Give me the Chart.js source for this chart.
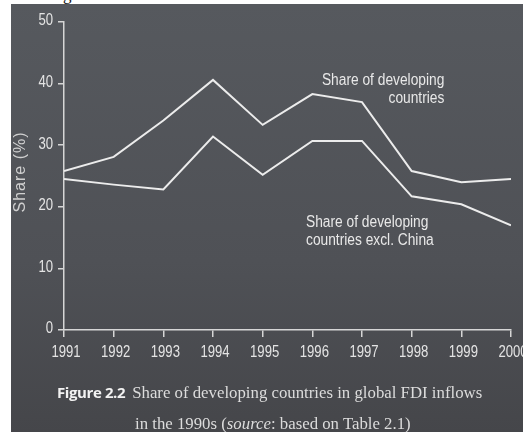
<!DOCTYPE html>
<html>
<head>
<meta charset="utf-8">
<script src="https://cdn.jsdelivr.net/npm/chart.js@4"></script>
<style>
  html, body { margin: 0; padding: 0; background: #ffffff; }
  #page { position: relative; width: 523px; height: 432px; overflow: hidden; background: #ffffff; }
  #panel {
    position: absolute; left: 11px; top: 4px; width: 512px; height: 428px;
    background: linear-gradient(to bottom, #56595e 0%, #4f5156 60%, #45464a 100%);
  }
  #topg { position: absolute; left: 63px; top: -15px; font: 17px "Liberation Serif", serif; color: #111; }
  canvas { position: absolute; left: 0; top: 0; }
  .lbl { position: absolute; font: 16px "Liberation Sans", sans-serif; color: #e8e8e8; line-height: 18px; white-space: nowrap; transform: scaleX(0.86); }
  .cap { position: absolute; color: #dcdcdc; white-space: nowrap; font: 16.8px "Liberation Serif", serif; }
  .cap b { font: bold 15px "Open Sans", "DejaVu Sans", sans-serif; color: #f2f2f2; margin-right: 7px; letter-spacing: -0.4px; }
</style>
</head>
<body>
<div id="page">
  <div id="topg">g</div>
  <div id="panel"></div>
  <canvas id="myChart" width="523" height="432"></canvas>
  <div class="lbl" style="right:79px; top:71px; text-align:right; transform-origin: right top;">Share of developing<br>countries</div>
  <div class="lbl" style="left:306px; top:213px; transform-origin: left top;">Share of developing<br>countries excl. China</div>
  <div class="cap" style="left:57px; top:382px;"><b>Figure 2.2</b>Share of developing countries in global FDI inflows</div>
  <div class="cap" style="left:135px; top:414px;">in the 1990s (<i>source</i>: based on Table 2.1)</div>
</div>
<script>
// Données du graphique
const annees = [1991, 1992, 1993, 1994, 1995, 1996, 1997, 1998, 1999, 2000];
const partPaysEnDev = [25.8, 28.1, 34.0, 40.6, 33.3, 38.3, 37.0, 25.8, 24.0, 24.5];
const partHorsChine = [24.5, 23.6, 22.8, 31.4, 25.2, 30.7, 30.7, 21.7, 20.4, 17.0];
const graduationsY = [0, 10, 20, 30, 40, 50];

const couleurAxe = '#d6d6d6';
const policeEtroite = '16px "Liberation Sans", sans-serif';

// Libellés des graduations, écrits en police resserrée (pas de police condensée installée)
function texteEtroit(c, txt, x, y, align) {
  c.save();
  c.translate(x, y);
  c.scale(0.82, 1);
  c.textAlign = align;
  c.fillText(txt, 0, 0);
  c.restore();
}

const libellesAxes = {
  id: 'libellesAxes',
  afterDraw(chart) {
    const c = chart.ctx;
    const sx = chart.scales.x, sy = chart.scales.y;
    c.save();
    c.fillStyle = '#e4e4e4';
    c.font = policeEtroite;
    c.textBaseline = 'alphabetic';
    annees.forEach(a => texteEtroit(c, String(a), sx.getPixelForValue(a) + 2, sx.top + 27, 'center'));
    c.textBaseline = 'middle';
    graduationsY.forEach(v => texteEtroit(c, String(v), sy.right - 11, sy.getPixelForValue(v) - 1, 'right'));
    // Titre de l'axe Y, tourné
    c.translate(21, 172);
    c.rotate(-Math.PI / 2);
    c.fillStyle = '#d0d0d0';
    c.font = '16px "Liberation Sans", sans-serif';
    c.letterSpacing = '1px';
    c.textAlign = 'center';
    c.fillText('Share (%)', 0, 0);
    c.restore();
  }
};

const ctx = document.getElementById('myChart').getContext('2d');
const myChart = new Chart(ctx, {
  type: 'line',
  data: {
    datasets: [
      {
        label: 'Share of developing countries',
        data: annees.map((a, i) => ({ x: a, y: partPaysEnDev[i] })),
        borderColor: '#ececec',
        borderWidth: 2,
        pointRadius: 0,
        tension: 0,
        fill: false
      },
      {
        label: 'Share of developing countries excl. China',
        data: annees.map((a, i) => ({ x: a, y: partHorsChine[i] })),
        borderColor: '#ececec',
        borderWidth: 2,
        pointRadius: 0,
        tension: 0,
        fill: false
      }
    ]
  },
  options: {
    responsive: false,
    animation: false,
    layout: { padding: { top: 22, right: 12, left: 0, bottom: 0 } },
    plugins: { legend: { display: false }, tooltip: { enabled: false } },
    scales: {
      x: {
        type: 'linear',
        min: 1991,
        max: 2000,
        afterFit: s => { s.height = 102; },
        afterBuildTicks: s => { s.ticks = annees.map(a => ({ value: a })); },
        ticks: { display: false },
        grid: { drawOnChartArea: false, color: couleurAxe, tickLength: 7, lineWidth: 1.5 },
        border: { color: couleurAxe, width: 1.5 }
      },
      y: {
        min: 0,
        max: 50,
        afterFit: s => { s.width = 64; },
        afterBuildTicks: s => { s.ticks = graduationsY.map(v => ({ value: v })); },
        ticks: { display: false },
        grid: { drawOnChartArea: false, color: couleurAxe, tickLength: 6, lineWidth: 1.5 },
        border: { color: couleurAxe, width: 1.5 }
      }
    }
  },
  plugins: [libellesAxes]
});
</script>
</body>
</html>
